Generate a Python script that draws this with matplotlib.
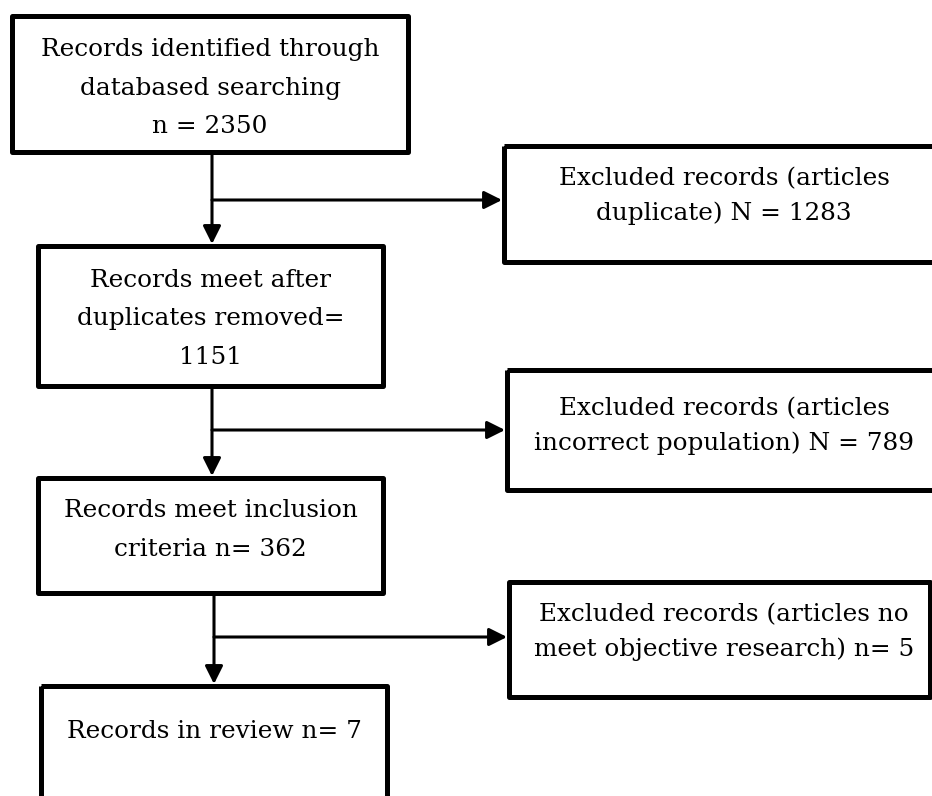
import matplotlib
matplotlib.use("Agg")
import matplotlib.pyplot as plt
from matplotlib.patches import Rectangle, FancyArrowPatch

# flow steps (left column) and exclusions (right column)
main_labels = ["Records identified through\ndatabased searching\nn = {}",
               "Records meet after\nduplicates removed=\n{}",
               "Records meet inclusion\ncriteria n= {}",
               "Records in review n= {}"]
main_counts = [2350, 1151, 362, 7]
excl_labels = ["Excluded records (articles\nduplicate) N = {}",
               "Excluded records (articles\nincorrect population) N = {}",
               "Excluded records (articles no\nmeet objective research) n= {}"]
excl_counts = [1283, 789, 5]

W, H = 932, 796
fig = plt.figure(figsize=(W / 100, H / 100), dpi=100)
ax = fig.add_axes([0, 0, 1, 1])
ax.set_xlim(0, W)
ax.set_ylim(H, 0)
ax.axis("off")

FONT = "DejaVu Serif"
FS = 17.8
BOX_LW = 3.6
ARR_LW = 2.2

# layout in pixel units: (x0, y0, x1, y1), text centre y
main_boxes = [(12, 16, 408, 152), (38, 246, 383, 386), (38, 478, 383, 593), (41, 686, 387, 830)]
main_text_y = [88, 319, 530, 731]
excl_boxes = [(504, 146, 960, 262), (507, 370, 960, 490), (509, 582, 930, 697)]
excl_text_y = [196, 426, 632]
arrow_x = [212, 212, 214]
branch_y = [200, 430, 637]


def box(b, lw=BOX_LW):
    x0, y0, x1, y1 = b
    ax.add_patch(Rectangle((x0, y0), x1 - x0, y1 - y0, fill=False, ec="black",
                           lw=lw, joinstyle="round"))


def arrow(p0, p1):
    a = FancyArrowPatch(p0, p1, arrowstyle="-|>,head_length=0.54,head_width=0.27",
                        mutation_scale=20, lw=ARR_LW, color="black",
                        shrinkA=0, shrinkB=0)
    ax.add_patch(a)


for b, lab, n, ty in zip(main_boxes, main_labels, main_counts, main_text_y):
    box(b)
    ax.text((b[0] + b[2]) / 2, ty, lab.format(n), ha="center", va="center",
            family=FONT, fontsize=FS, linespacing=1.84)

for b, lab, n, ty in zip(excl_boxes, excl_labels, excl_counts, excl_text_y):
    box(b)
    ax.text(724, ty, lab.format(n), ha="center", va="center",
            family=FONT, fontsize=FS, linespacing=1.64)

for i in range(3):
    x = arrow_x[i]
    arrow((x, main_boxes[i][3]), (x, main_boxes[i + 1][1] - 2))
    arrow((x, branch_y[i]), (excl_boxes[i][0] - 2, branch_y[i]))

fig.savefig("out.png", dpi=100)
